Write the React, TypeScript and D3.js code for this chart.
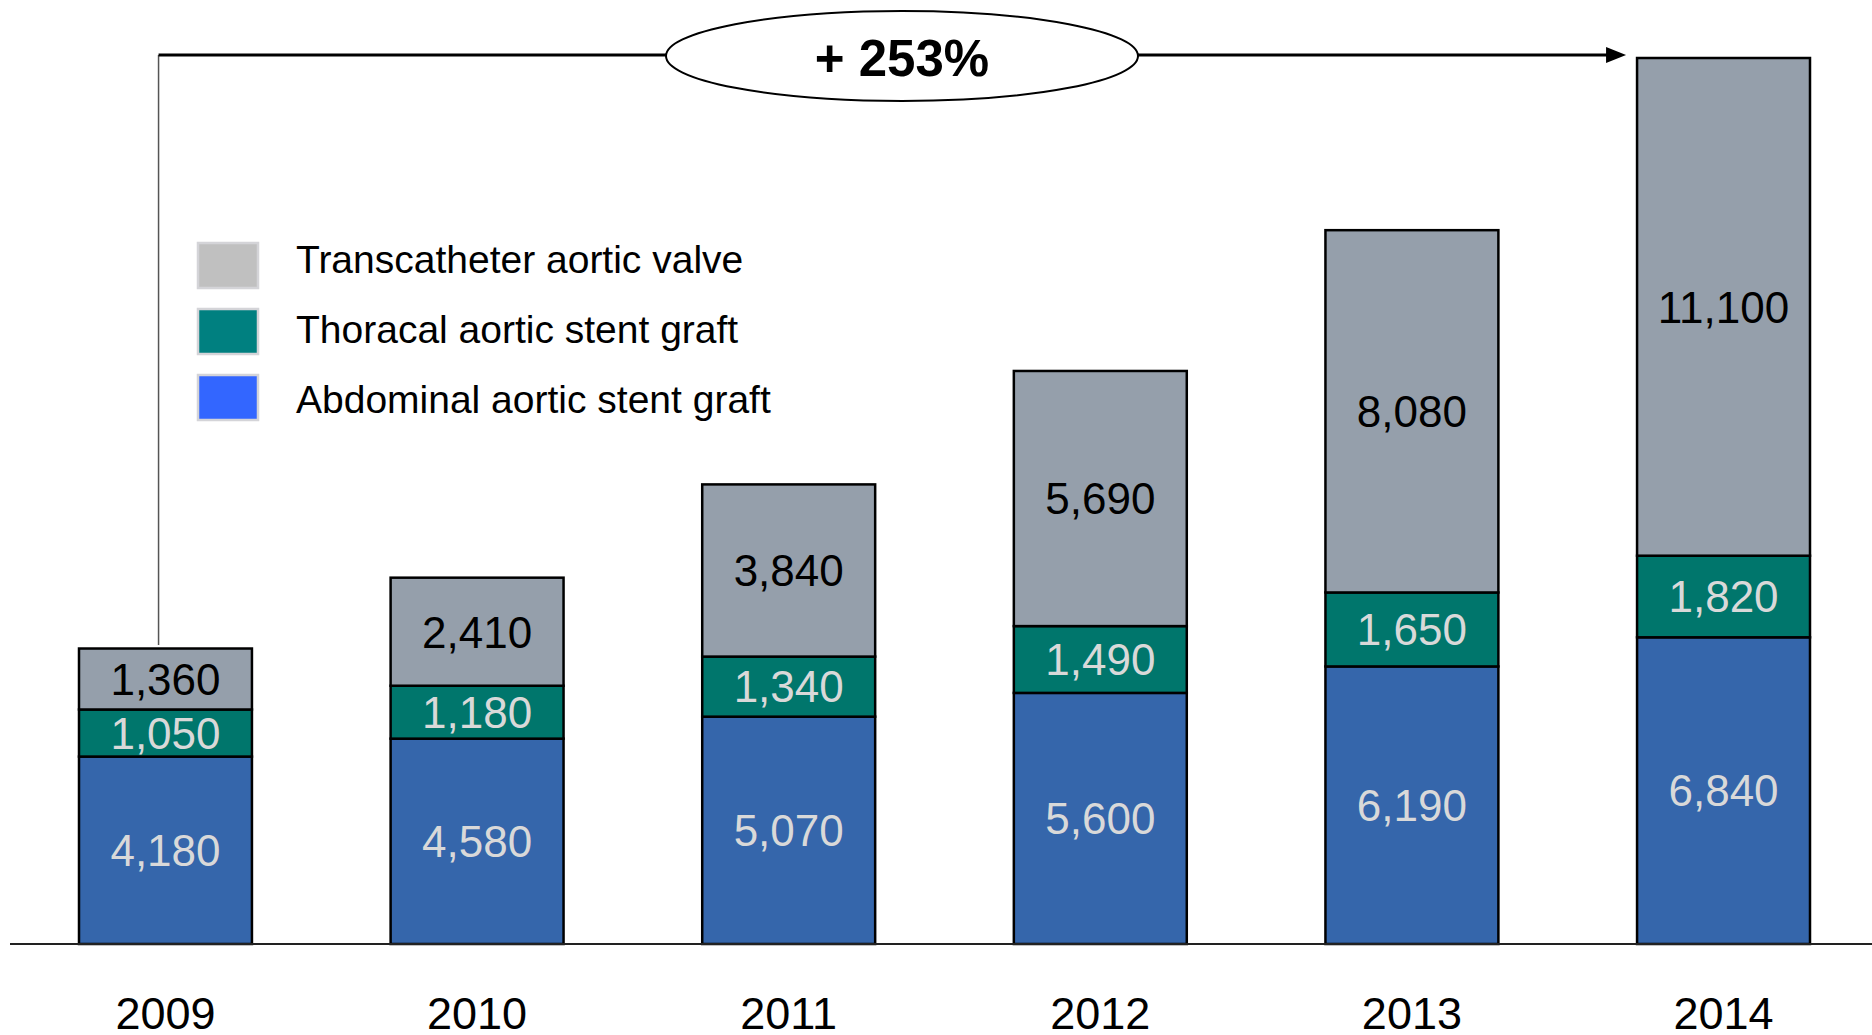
import * as d3 from "d3";
import React from "react";

const years = ["2009", "2010", "2011", "2012", "2013", "2014"];
const abdominal = [4180, 4580, 5070, 5600, 6190, 6840];
const thoracal = [1050, 1180, 1340, 1490, 1650, 1820];
const transcatheter = [1360, 2410, 3840, 5690, 8080, 11100];
const growthLabel = "+ 253%";

const seriesNames = [
  "Abdominal aortic stent graft",
  "Thoracal aortic stent graft",
  "Transcatheter aortic valve",
];
const barColors = ["#3566ab", "#00766c", "#959fab"];
const legendColors = ["#3366ff", "#008080", "#c0c0c0"];
const labelColors = ["#d9d9d9", "#d9d9d9", "#000000"];

const width = 1872;
const height = 1035;
const baseline = 944;
const top = 58;
const font = "'Liberation Sans', Arial, Helvetica, sans-serif";

const rows = years.map((yr, i) => ({
  year: yr,
  abdominal: abdominal[i],
  thoracal: thoracal[i],
  transcatheter: transcatheter[i],
}));
const keys = ["abdominal", "thoracal", "transcatheter"];

const App = () => {
  const stacked = d3.stack<any>().keys(keys)(rows);
  const totals = rows.map((r) => r.abdominal + r.thoracal + r.transcatheter);

  const x = d3
    .scaleBand()
    .domain(years)
    .range([79, 1810])
    .paddingInner(0.445)
    .paddingOuter(0);
  const y = d3
    .scaleLinear()
    .domain([0, d3.max(totals) as number])
    .range([baseline, top]);

  const bw = x.bandwidth();
  const fmt = d3.format(",");

  // annotation geometry
  const first = years[0];
  const last = years[years.length - 1];
  const lineX = (x(first) as number) + bw * 0.46;
  const lineY = y(totals[totals.length - 1]) - 3;
  const tipX = (x(last) as number) - 11;
  const ellipseCx = 902;

  // legend order: top to bottom = transcatheter, thoracal, abdominal
  const legendOrder = [2, 1, 0];

  return (
    <svg
      width={width}
      height={height}
      style={{ position: "absolute", left: 0, top: 0, background: "#fff" }}
    >
      {/* bars */}
      {stacked.map((layer, si) => (
        <g key={layer.key}>
          {layer.map((d, i) => {
            const x0 = x(years[i]) as number;
            const y0 = y(d[1]);
            const h = y(d[0]) - y(d[1]);
            return (
              <g key={years[i]}>
                <rect
                  x={x0}
                  y={y0}
                  width={bw}
                  height={h}
                  fill={barColors[si]}
                  stroke="#000"
                  strokeWidth={2.5}
                />
                <text
                  x={x0 + bw / 2}
                  y={y0 + h / 2}
                  dy="0.36em"
                  textAnchor="middle"
                  fontFamily={font}
                  fontSize={44}
                  fill={labelColors[si]}
                >
                  {fmt(d[1] - d[0])}
                </text>
              </g>
            );
          })}
        </g>
      ))}

      {/* baseline */}
      <line x1={10} x2={width} y1={baseline} y2={baseline} stroke="#222" strokeWidth={2} />

      {/* year labels */}
      {years.map((yr) => (
        <text
          key={yr}
          x={(x(yr) as number) + bw / 2}
          y={1029}
          textAnchor="middle"
          fontFamily={font}
          fontSize={45}
          fill="#000"
        >
          {yr}
        </text>
      ))}

      {/* legend */}
      {legendOrder.map((si, k) => (
        <g key={seriesNames[si]}>
          <rect
            x={198}
            y={243 + k * 66}
            width={60}
            height={45}
            fill={legendColors[si]}
            stroke="#d4d4d8"
            strokeWidth={2.5}
          />
          <text
            x={296}
            y={259 + k * 70}
            dy="0.36em"
            fontFamily={font}
            fontSize={39}
            fill="#000"
          >
            {seriesNames[si]}
          </text>
        </g>
      ))}

      {/* growth annotation */}
      <line x1={lineX} x2={lineX} y1={lineY} y2={645} stroke="#555" strokeWidth={1.5} />
      <line x1={lineX} x2={tipX - 16} y1={lineY} y2={lineY} stroke="#000" strokeWidth={3} />
      <path
        d={`M${tipX},${lineY} L${tipX - 20},${lineY - 8} L${tipX - 20},${lineY + 8} Z`}
        fill="#000"
      />
      <ellipse
        cx={ellipseCx}
        cy={lineY + 1}
        rx={236}
        ry={45}
        fill="#fff"
        stroke="#000"
        strokeWidth={2}
      />
      <text
        x={ellipseCx}
        y={lineY + 3}
        dy="0.36em"
        textAnchor="middle"
        fontFamily={font}
        fontWeight="bold"
        fontSize={51}
        fill="#000"
      >
        {growthLabel}
      </text>
    </svg>
  );
};

export default App;
